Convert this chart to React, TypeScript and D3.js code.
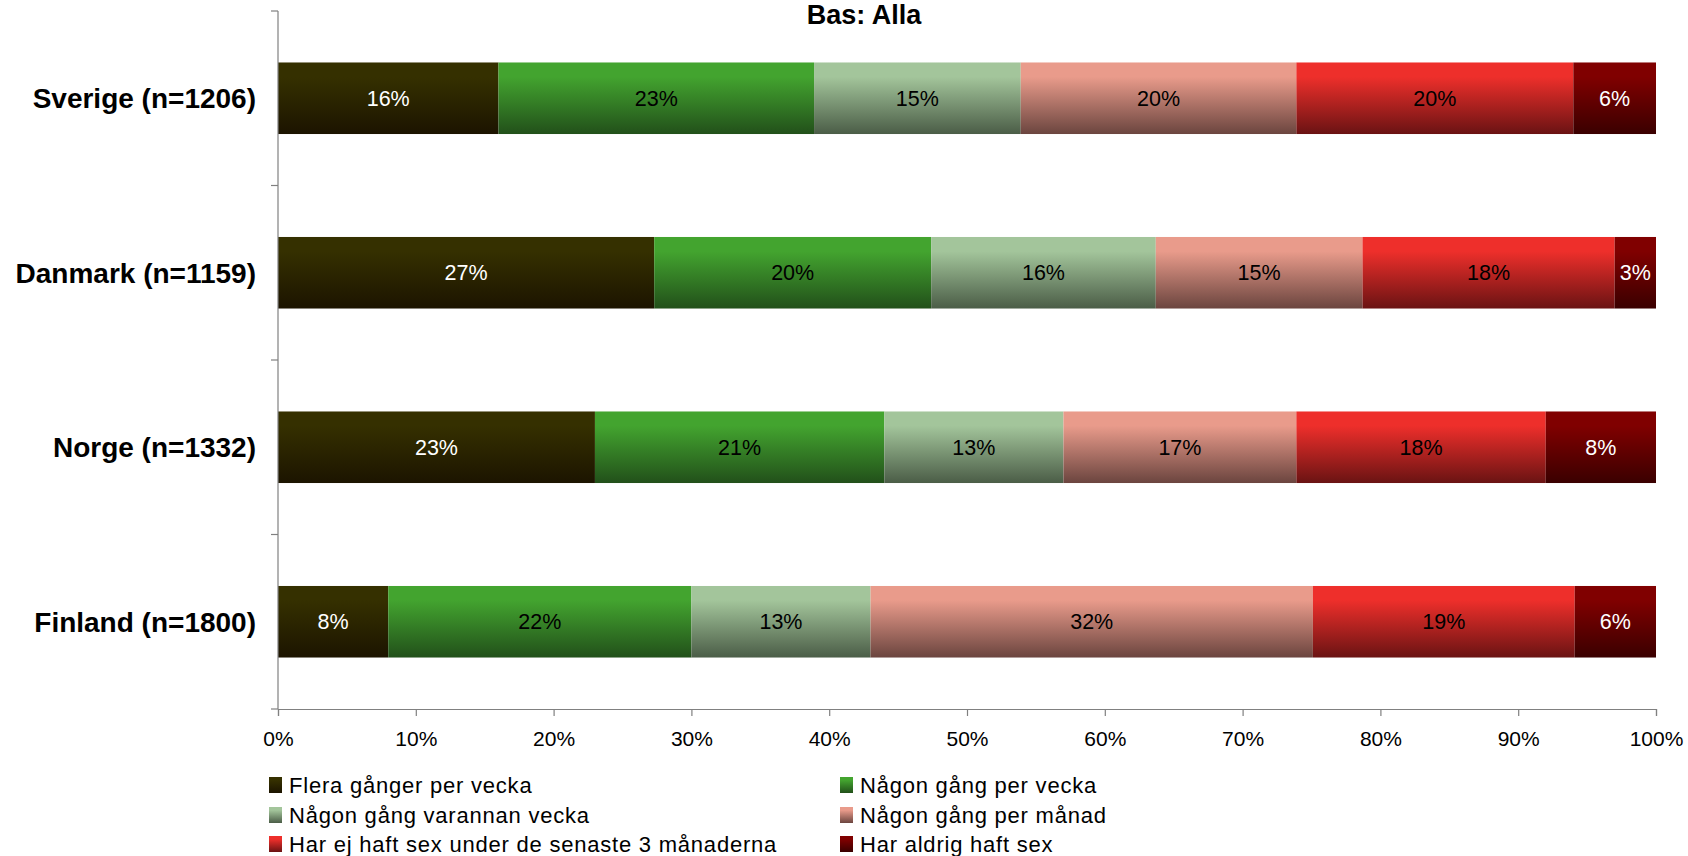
import React, { useEffect, useRef } from "react";
import * as d3 from "d3";

const countries = ["Sverige (n=1206)", "Danmark (n=1159)", "Norge (n=1332)", "Finland (n=1800)"];
const seriesNames = [
  "Flera gånger per vecka",
  "Någon gång per vecka",
  "Någon gång varannan vecka",
  "Någon gång per månad",
  "Har ej haft sex under de senaste 3 månaderna",
  "Har aldrig haft sex",
];
const sverige = [16.0, 22.9, 15.0, 20.0, 20.1, 6.0];
const danmark = [27.3, 20.1, 16.3, 15.0, 18.3, 3.0];
const norge = [23.0, 21.0, 13.0, 16.9, 18.1, 8.0];
const finland = [8.0, 22.0, 13.0, 32.1, 19.0, 5.9];
const xTicks = [0, 10, 20, 30, 40, 50, 60, 70, 80, 90, 100];

const topColors = ["#353000", "#43a42f", "#a3c59b", "#e99b8b", "#ee2f2b", "#800000"];
const bottomColors = ["#1c1400", "#22501a", "#4b5d47", "#6b453f", "#6a1313", "#3a0000"];
const labelColors = ["#ffffff", "#000000", "#000000", "#000000", "#000000", "#ffffff"];

const W = 1688;
const H = 856;
const FONT = "'Liberation Sans', Arial, sans-serif";

export default function App() {
  const ref = useRef<SVGSVGElement>(null);

  useEffect(() => {
    const svg = d3.select(ref.current);
    svg.selectAll("*").remove();

    const left = 278;
    const right = 1656;
    const top = 11;
    const bottom = 709;

    const x = d3.scaleLinear().domain([0, 100]).range([left, right]);
    const y = d3.scaleBand<string>().domain(countries).range([top, bottom])
      .paddingInner(0.59).paddingOuter(0.295);

    const defs = svg.append("defs");
    topColors.forEach((c, i) => {
      const g = defs.append("linearGradient").attr("id", "grad" + i)
        .attr("x1", 0).attr("y1", 0).attr("x2", 0).attr("y2", 1);
      g.append("stop").attr("offset", "0.2").attr("stop-color", c);
      g.append("stop").attr("offset", "1").attr("stop-color", bottomColors[i]);
    });

    const rows = [sverige, danmark, norge, finland];
    const data = countries.map((c, ci) => {
      let acc = 0;
      return rows[ci].map((v, si) => {
        const d = { country: c, s: si, v, x0: acc, x1: acc + v };
        acc += v;
        return d;
      });
    });

    const bars = svg.append("g");
    data.forEach(row => {
      const g = bars.append("g");
      g.selectAll("rect").data(row).enter().append("rect")
        .attr("x", d => x(d.x0))
        .attr("y", d => y(d.country)!)
        .attr("width", d => x(d.x1) - x(d.x0))
        .attr("height", y.bandwidth())
        .attr("fill", d => `url(#grad${d.s})`);
      g.selectAll("text").data(row).enter().append("text")
        .attr("x", d => (x(d.x0) + x(d.x1)) / 2)
        .attr("y", d => y(d.country)! + y.bandwidth() / 2)
        .attr("dy", "0.35em")
        .attr("text-anchor", "middle")
        .attr("font-family", FONT)
        .attr("font-size", 21.5)
        .attr("fill", d => labelColors[d.s])
        .text(d => Math.round(d.v) + "%");
    });

    // y axis
    const yAxis = svg.append("g");
    yAxis.append("line").attr("x1", left).attr("x2", left).attr("y1", top).attr("y2", bottom)
      .attr("stroke", "#808080").attr("stroke-width", 1.2);
    const bounds = d3.range(countries.length + 1).map(i => top + i * y.step());
    yAxis.selectAll("line.tick").data(bounds).enter().append("line")
      .attr("class", "tick")
      .attr("x1", left - 7).attr("x2", left).attr("y1", d => d).attr("y2", d => d)
      .attr("stroke", "#808080").attr("stroke-width", 1.2);
    yAxis.selectAll("text").data(countries).enter().append("text")
      .attr("x", 256)
      .attr("y", d => y(d)! + y.bandwidth() / 2)
      .attr("dy", "0.35em")
      .attr("text-anchor", "end")
      .attr("font-family", FONT)
      .attr("font-weight", "bold")
      .attr("font-size", 28)
      .text(d => d);

    // x axis
    const xAxis = svg.append("g").attr("transform", `translate(0,${bottom})`)
      .call(d3.axisBottom(x).tickValues(xTicks).tickSize(7).tickPadding(15).tickFormat(d => d + "%"));
    xAxis.select(".domain").attr("stroke", "#808080").attr("stroke-width", 1.2);
    xAxis.selectAll(".tick line").attr("stroke", "#808080").attr("stroke-width", 1.2);
    xAxis.selectAll(".tick text").attr("font-family", FONT).attr("font-size", 21).attr("fill", "#000");

    // title
    svg.append("text").attr("x", 864).attr("y", 24).attr("text-anchor", "middle")
      .attr("font-family", FONT).attr("font-weight", "bold").attr("font-size", 27)
      .text("Bas: Alla");

    // legend
    const legX = [269, 840];
    const legY = [785, 815, 844];
    const leg = svg.append("g");
    seriesNames.forEach((name, i) => {
      const lx = legX[i % 2];
      const ly = legY[Math.floor(i / 2)];
      leg.append("rect").attr("x", lx).attr("y", ly - 8).attr("width", 13).attr("height", 16)
        .attr("fill", `url(#grad${i})`);
      leg.append("text").attr("x", lx + 20).attr("y", ly).attr("dy", "0.35em")
        .attr("font-family", FONT).attr("font-size", 22).attr("letter-spacing", 0.78)
        .text(name);
    });
  }, []);

  return (
    <svg ref={ref} width={W} height={H}
      style={{ position: "absolute", left: 0, top: 0, background: "#fff" }} />
  );
}
